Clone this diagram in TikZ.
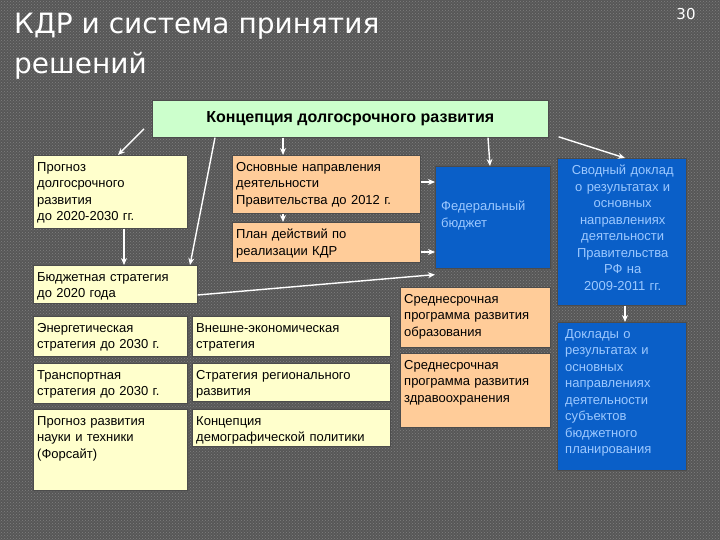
\documentclass[tikz,border=0pt]{standalone}
\usepackage{fontspec}
\setmainfont{Liberation Sans}
\newfontfamily\titlefont{DejaVu Sans}
\usetikzlibrary{arrows.meta,patterns}
\definecolor{bgc}{HTML}{575757}
\definecolor{yel}{HTML}{FFFFCC}
\definecolor{pch}{HTML}{FFCC99}
\definecolor{blu}{HTML}{0A5FC8}
\definecolor{grn}{HTML}{CCFFCC}
\definecolor{btxt}{HTML}{9CC8FF}
\tikzset{
  bx/.style={draw=black!70,line width=0.6pt,anchor=north west,inner sep=0pt},
  ybox/.style={bx,fill=yel},
  pbox/.style={bx,fill=pch},
  bbox/.style={bx,fill=blu},
  txt/.style={anchor=north west,align=left,inner sep=0pt,font=\fontsize{13}{16.5}\selectfont},
  arr/.style={draw=white,line width=1.4pt,-{Stealth[length=7pt,width=6pt]}}
}
\newcommand{\bxx}[8]{%
  \node[#6,minimum width=#4pt,minimum height=#5pt] (#1) at (#2,#3) {};
  \node[txt,text width=#4pt-6pt,#8] (#1t) at ([xshift=4pt,yshift=-7pt]#1.north west) {#7};}
\begin{document}
\begin{tikzpicture}[x=1pt,y=-1pt]
\fill[bgc] (0,0) rectangle (720,540);
\fill[pattern=crosshatch dots,pattern color=black!50] (0,0) rectangle (720,540);
\useasboundingbox (0,0) rectangle (720,540);
\node[anchor=north west,align=left,text=white,inner sep=0pt,font=\titlefont\fontsize{28}{40}\selectfont] (title) at (14,13) {КДР и система принятия\\решений};
\node[text=white,font=\titlefont\fontsize{15}{16}\selectfont] (num) at (686,14) {30};
\node[bx,fill=grn,minimum width=396pt,minimum height=37pt,font=\bfseries\fontsize{16}{18}\selectfont] (main) at (152,100) {Концепция долгосрочного развития};
\bxx{prog}{33}{155}{154}{73}{ybox}{Прогноз\\долгосрочного\\развития\\до 2020-2030 гг.}{}
\bxx{osn}{232}{155}{188}{58}{pbox}{Основные направления\\деятельности\\Правительства до 2012 г.}{}
\bxx{plan}{232}{222}{188}{40}{pbox}{План действий по\\реализации КДР}{}
\bxx{fed}{435}{166}{115}{102}{bbox}{Федеральный\\бюджет}{text=btxt,yshift=-28pt,xshift=2pt}
\bxx{svod}{557}{158}{129}{147}{bbox}{Сводный доклад\\о результатах и\\основных\\направлениях\\деятельности\\Правительства\\РФ на\\2009-2011 гг.}{text=btxt,align=center}
\bxx{bud}{33}{265}{164}{38}{ybox}{Бюджетная стратегия\\до 2020 года}{}
\bxx{energ}{33}{316}{154}{40}{ybox}{Энергетическая\\стратегия до 2030 г.}{}
\bxx{vnesh}{192}{316}{198}{40}{ybox}{Внешне-экономическая\\стратегия}{}
\bxx{transp}{33}{363}{154}{40}{ybox}{Транспортная\\стратегия до 2030 г.}{}
\bxx{reg}{192}{363}{198}{38}{ybox}{Стратегия регионального\\развития}{}
\bxx{nauka}{33}{409}{154}{81}{ybox}{Прогноз развития\\науки и техники\\(Форсайт)}{}
\bxx{demo}{192}{409}{198}{37}{ybox}{Концепция\\демографической политики}{}
\bxx{obr}{400}{287}{150}{60}{pbox}{Среднесрочная\\программа развития\\образования}{}
\bxx{zdr}{400}{353}{150}{74}{pbox}{Среднесрочная\\программа развития\\здравоохранения}{}
\bxx{dokl}{557}{322}{129}{148}{bbox}{Доклады о\\результатах и\\основных\\направлениях\\деятельности\\субъектов\\бюджетного\\планирования}{text=btxt,xshift=4pt}
\draw[arr] ([xshift=-8pt,yshift=-10pt]main.west) -- (prog.north -| 118,0);
\draw[arr] (main.south -| 215,0) -- (bud.north -| 190,0);
\draw[arr] (main.south -| 283,0) -- (osn.north -| 283,0);
\draw[arr] (main.south -| 488,0) -- (fed.north -| 490,0);
\draw[arr] ([xshift=10pt,yshift=-18pt]main.east) -- (svod.north -| 625,0);
\draw[arr] (prog.south -| 124,0) -- (bud.north -| 124,0);
\draw[arr] (osn.south -| 283,0) -- (plan.north -| 283,0);
\draw[arr] (osn.east |- 0,182) -- (fed.west |- 0,182);
\draw[arr] (plan.east |- 0,252) -- (fed.west |- 0,252);
\draw[arr] (bud.east |- 0,295) -- ([yshift=-6pt]fed.south west);
\draw[arr] (svod.south -| 625,0) -- (dokl.north -| 625,0);
\end{tikzpicture}
\end{document}
